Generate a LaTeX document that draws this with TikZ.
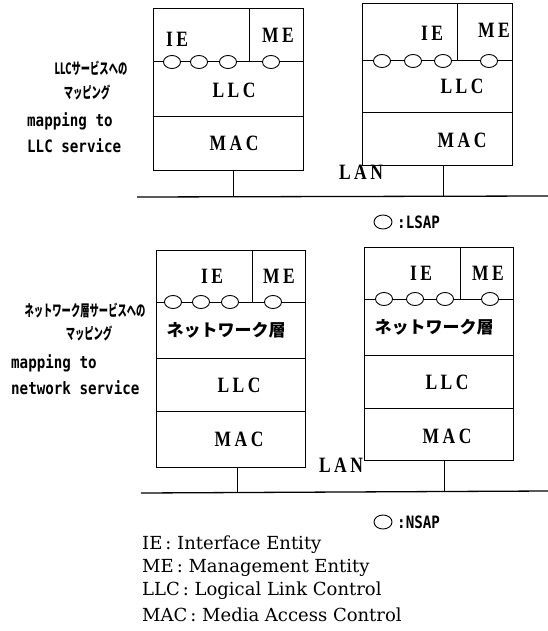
\documentclass[tikz,border=0pt]{standalone}
\usepackage{fontspec}
\usepackage{graphicx}
\setmainfont{Liberation Serif}
\newfontfamily\jpfont{Noto Sans CJK JP}
\newfontfamily\monofont{DejaVu Sans Mono}
\newfontfamily\legfont{DejaVu Serif}
\newfontfamily\lblfam[LetterSpace=20]{Liberation Serif}
\usetikzlibrary{shapes.geometric}
\newcommand{\lyr}[1]{\scalebox{1}[1.25]{\lblfam\bfseries\fontsize{17.5}{17.5}\selectfont #1}}
\newcommand{\mtxt}[1]{\scalebox{1}[1.2]{\monofont\bfseries\fontsize{14.2}{14.2}\selectfont #1}}
\newcommand{\jtxt}[1]{\scalebox{0.6}[1]{\jpfont\bfseries\fontsize{15.5}{15.5}\selectfont #1}}
\tikzset{
  boxline/.style={line width=1pt},
  lanline/.style={line width=1.3pt},
  sap/.style={ellipse, draw, fill=white, minimum width=17pt, minimum height=13pt, inner sep=0pt, line width=0.9pt},
  layer/.style={inner sep=0pt},
  netl/.style={font=\jpfont\bfseries\fontsize{17}{17}\selectfont, inner sep=0pt},
  lside/.style={inner sep=0pt},
  legend/.style={font=\legfont\fontsize{18}{18}\selectfont, inner sep=0pt, anchor=west}
}
\begin{document}
\begin{tikzpicture}[x=1pt,y=-1pt]
\useasboundingbox (0,0) rectangle (548,631);
% ---------------- top section ----------------
% box A
\draw[boxline] (153,9) rectangle (303,171);
\draw[boxline] (153,62) -- (303,62);
\draw[boxline] (153,117) -- (303,117);
\draw[boxline] (249,9) -- (249,62);
% box B
\draw[boxline] (362,4) rectangle (512,166);
\draw[boxline] (362,61) -- (512,61);
\draw[boxline] (362,113) -- (512,113);
\draw[boxline] (457,4) -- (457,61);
% LAN 1
\coordinate (lan1w) at (137,197);
\coordinate (lan1e) at (548,196);
\draw[lanline] (lan1w) -- (lan1e);
\coordinate (abot) at (233,171);
\coordinate (alan) at (233,197);
\coordinate (bbot) at (443,166);
\coordinate (blan) at (443,196);
\draw[boxline] (abot) -- (alan);
\draw[boxline] (bbot) -- (blan);
% SAPs
\node[sap] (a1) at (172,62) {};
\node[sap] (a2) at (199,62) {};
\node[sap] (a3) at (228,62) {};
\node[sap] (a4) at (271,62) {};
\node[sap] (b1) at (382,61) {};
\node[sap] (b2) at (413,61) {};
\node[sap] (b3) at (443,61) {};
\node[sap] (b4) at (489,61) {};
% labels
\node[layer] (aie) at (177,39) {\lyr{IE}};
\node[layer] (ame) at (278,35) {\lyr{ME}};
\node[layer] (allc) at (234,90) {\lyr{LLC}};
\node[layer] (amac) at (234,143) {\lyr{MAC}};
\node[layer] (bie) at (432,33) {\lyr{IE}};
\node[layer] (bme) at (494,30) {\lyr{ME}};
\node[layer] (bllc) at (462,86) {\lyr{LLC}};
\node[layer] (bmac) at (462,140) {\lyr{MAC}};
\node[layer] (lan1) at (361,172) {\lyr{LAN}};
% side text top
\node[lside] (t1) at (91,68) {\jtxt{LLCサービスへの}};
\node[lside] (t2) at (87,93) {\jtxt{マッピング}};
\node[lside, anchor=west] (t3) at (27,121) {\mtxt{mapping to}};
\node[lside, anchor=west] (t4) at (27,146) {\mtxt{LLC service}};
% LSAP legend
\node[sap, minimum width=18pt, minimum height=14pt] (lsapc) at (383,222) {};
\node[lside, anchor=west] (lsapt) at (397,222) {\mtxt{:LSAP}};
% ---------------- bottom section ----------------
% box C
\draw[boxline] (156,250) rectangle (305,467);
\draw[boxline] (156,302) -- (305,302);
\draw[boxline] (156,358) -- (305,358);
\draw[boxline] (156,411) -- (305,411);
\draw[boxline] (252,250) -- (252,302);
% box D
\draw[boxline] (364,247) rectangle (513,460);
\draw[boxline] (364,299) -- (513,299);
\draw[boxline] (364,355) -- (513,355);
\draw[boxline] (364,408) -- (513,408);
\draw[boxline] (460,247) -- (460,299);
% LAN 2
\coordinate (lan2w) at (141,493);
\coordinate (lan2e) at (548,491);
\draw[lanline] (lan2w) -- (lan2e);
\coordinate (cbot) at (237,467);
\coordinate (clan) at (237,493);
\coordinate (dbot) at (444,460);
\coordinate (dlan) at (444,491);
\draw[boxline] (cbot) -- (clan);
\draw[boxline] (dbot) -- (dlan);
% SAPs
\node[sap] (c1) at (173,302) {};
\node[sap] (c2) at (201,302) {};
\node[sap] (c3) at (230,302) {};
\node[sap] (c4) at (273,302) {};
\node[sap] (d1) at (384,299) {};
\node[sap] (d2) at (415,299) {};
\node[sap] (d3) at (445,299) {};
\node[sap] (d4) at (490,299) {};
% labels
\node[layer] (cie) at (212,276) {\lyr{IE}};
\node[layer] (cme) at (279,276) {\lyr{ME}};
\node[netl] (cnet) at (226,330) {ネットワーク層};
\node[layer] (cllc) at (239,385) {\lyr{LLC}};
\node[layer] (cmac) at (239,439) {\lyr{MAC}};
\node[layer] (die) at (421,273) {\lyr{IE}};
\node[layer] (dme) at (488,273) {\lyr{ME}};
\node[netl] (dnet) at (434,327) {ネットワーク層};
\node[layer] (dllc) at (447,382) {\lyr{LLC}};
\node[layer] (dmac) at (447,436) {\lyr{MAC}};
\node[layer] (lan2) at (341,465) {\lyr{LAN}};
% side text bottom
\node[lside] (u1) at (85,311) {\jtxt{ネットワーク層サービスへの}};
\node[lside] (u2) at (89,333) {\jtxt{マッピング}};
\node[lside, anchor=west] (u3) at (11,363) {\mtxt{mapping to}};
\node[lside, anchor=west] (u4) at (11,388) {\mtxt{network service}};
% NSAP legend
\node[sap, minimum width=18pt, minimum height=14pt] (nsapc) at (383,522) {};
\node[lside, anchor=west] (nsapt) at (397,522) {\mtxt{:NSAP}};
% ---------------- legend ----------------
\node[legend] (g1) at (142,545) {IE\,: Interface Entity};
\node[legend] (g2) at (142,568) {ME\,: Management Entity};
\node[legend] (g3) at (142,591) {LLC\,: Logical Link Control};
\node[legend] (g4) at (142,615) {MAC\,: Media Access Control};
\end{tikzpicture}
\end{document}
